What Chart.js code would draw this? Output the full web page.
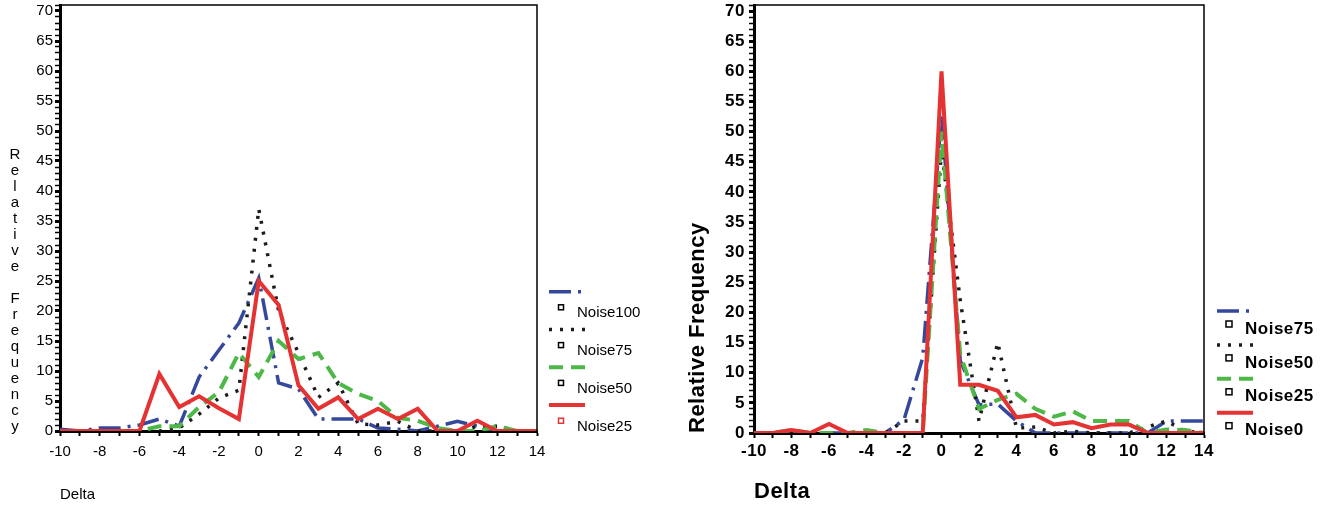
<!DOCTYPE html>
<html>
<head>
<meta charset="utf-8">
<script src="https://cdn.jsdelivr.net/npm/chart.js@4"></script>
<style>
  body { margin: 0; background: #fff; }
  #wrap { position: relative; width: 1341px; height: 510px; }
  canvas { position: absolute; top: 0; }
  #leftChart { left: 0; }
  #rightChart { left: 680px; }
</style>
</head>
<body>
<div id="wrap">
  <canvas id="leftChart" width="680" height="510"></canvas>
  <canvas id="rightChart" width="661" height="510"></canvas>
</div>
<script>
// x values (Delta) shared by both panels
const deltas = [-10, -9, -8, -7, -6, -5, -4, -3, -2, -1, 0, 1, 2, 3, 4, 5, 6, 7, 8, 9, 10, 11, 12, 13, 14];

// left panel series
const leftNoise100 = [0.3, 0, 0.5, 0.5, 1, 2, 0.8, 9, 13.5, 18, 25.5, 8, 7, 2, 2, 2, 0.5, 0.3, 0, 0.8, 1.6, 0.8, 0, 0, 0];
const leftNoise75  = [0, 0, 0, 0, 0, 0, 0.5, 2.8, 5.5, 6.8, 37, 20, 13, 5.6, 8, 1.2, 1, 1.6, 0, 0, 0, 0.8, 0.8, 0, 0];
const leftNoise50  = [0, 0, 0, 0, 0, 0.8, 0.8, 4, 6.5, 13, 9, 15, 12, 13, 8, 6.2, 5, 2.2, 1.7, 0.5, 0, 0, 0.8, 0, 0];
const leftNoise25  = [0, 0, 0, 0, 0, 9.5, 4, 5.8, 3.8, 2, 25, 21, 7.6, 3.7, 5.6, 2, 3.7, 2, 3.7, 0, 0, 1.7, 0, 0, 0];
const leftLabels = ["Noise100", "Noise75", "Noise50", "Noise25"];

// right panel series
const rightNoise75 = [0, 0, 0, 0, 0, 0, 0, 0, 2.2, 12.5, 53, 12, 4.7, 4.8, 2, 0, 0, 0, 0, 0, 0, 0, 2, 2, 2];
const rightNoise50 = [0, 0, 0, 0, 0, 0, 0, 0, 2, 2, 47, 22, 2, 15, 0.8, 1, 0, 0.3, 0, 0, 0, 1, 2, 0.3, 0];
const rightNoise25 = [0, 0, 0.5, 0, 0, 0, 0.5, 0, 0, 0, 50, 13, 4, 5.5, 6.5, 4, 2.7, 3.6, 2, 2, 2, 0, 0.6, 0.5, 0];
const rightNoise0  = [0, 0, 0.5, 0, 1.5, 0, 0, 0, 0, 0, 60, 8, 8, 7, 2.6, 3, 1.4, 1.8, 0.8, 1.4, 1.4, 0, 0, 0, 0];
const rightLabels = ["Noise75", "Noise50", "Noise25", "Noise0"];

const yTitle = "Relative Frequency";
const xTitle = "Delta";

// line look per series slot (dash-dot, dotted, dashed, solid)
const seriesStyles = [
  { color: "#34499b", dash: [22, 7, 3, 7], width: 3.5 },
  { color: "#1c1c1c", dash: [3, 8], width: 3.5 },
  { color: "#4db848", dash: [14, 8], width: 4 },
  { color: "#e53232", dash: [], width: 4 }
];

const boldFamily = "'Liberation Sans', Arial, sans-serif";

Chart.defaults.font.family = "'Liberation Sans', Arial, sans-serif";
Chart.defaults.color = "#000";

function toPoints(values) {
  return deltas.map((d, i) => ({ x: d, y: values[i] }));
}

function makeDatasets(labels, seriesList) {
  return seriesList.map((values, i) => ({
    label: labels[i],
    data: toPoints(values),
    borderColor: seriesStyles[i].color,
    borderWidth: seriesStyles[i].width,
    borderDash: seriesStyles[i].dash,
    pointRadius: 0,
    tension: 0,
    fill: false,
    order: 4 - i
  }));
}

// thin frame on top and right of plot
const framePlugin = {
  id: "frame",
  afterDraw(chart) {
    const { ctx, chartArea: a } = chart;
    ctx.save();
    ctx.strokeStyle = "#000";
    ctx.lineWidth = 1.5;
    ctx.beginPath();
    ctx.moveTo(a.left, a.top);
    ctx.lineTo(a.right, a.top);
    ctx.lineTo(a.right, a.bottom);
    ctx.stroke();
    ctx.restore();
  }
};

// legend: line sample row, then square + name row
const sideLegend = {
  id: "sideLegend",
  afterDraw(chart, args, o) {
    const ctx = chart.ctx;
    ctx.save();
    chart.data.datasets.forEach((ds, i) => {
      const y = o.top + i * o.gap;
      ctx.strokeStyle = ds.borderColor;
      ctx.lineWidth = ds.borderWidth;
      ctx.setLineDash(ds.borderDash);
      ctx.beginPath();
      ctx.moveTo(o.x0, y);
      ctx.lineTo(o.x1, y);
      ctx.stroke();
      ctx.setLineDash([]);
      ctx.lineWidth = 1.5;
      ctx.strokeStyle = o.squareColors[i];
      ctx.strokeRect(o.sqX - o.sq / 2, y + o.sqDy - o.sq / 2, o.sq, o.sq);
      ctx.fillStyle = "#000";
      ctx.font = o.font;
      ctx.textAlign = "left";
      ctx.textBaseline = "middle";
      ctx.fillText(ds.label, o.textX, y + o.textDy);
    });
    ctx.restore();
  }
};

// y title written one upright letter under another
const stackedTitle = {
  id: "stackedTitle",
  afterDraw(chart, args, o) {
    if (!o.text) return;
    const ctx = chart.ctx;
    ctx.save();
    ctx.fillStyle = "#000";
    ctx.font = o.font;
    ctx.textAlign = "center";
    ctx.textBaseline = "middle";
    o.text.split("").forEach((ch, i) => {
      ctx.fillText(ch, o.x, o.y0 + i * o.step);
    });
    ctx.restore();
  }
};

// letter spacing for the right panel's lettering
const spacingPlugin = {
  id: "spacing",
  beforeDraw(chart, args, o) {
    if (o.value) chart.ctx.letterSpacing = o.value;
  }
};

function makeScales(opt) {
  return {
    x: {
      type: "linear",
      min: -10,
      max: 14,
      afterFit: s => { s.height = opt.xHeight; s.paddingLeft = 0; s.paddingRight = 0; },
      border: { display: true, color: "#000", width: 3 },
      grid: { drawOnChartArea: false, drawTicks: true, tickLength: 5, tickColor: "#000", tickWidth: 2 },
      ticks: {
        stepSize: 1,
        autoSkip: false,
        maxRotation: 0,
        padding: opt.xPad,
        color: "#000",
        font: opt.tickFont,
        callback: v => (v % 2 === 0 ? String(v) : "")
      },
      title: { display: true, text: xTitle, align: "start", color: "#000", font: opt.xTitleFont, padding: { top: 0, bottom: opt.xTitlePad } }
    },
    y: {
      min: 0,
      max: 71,
      afterFit: s => { s.width = opt.yWidth; s.paddingTop = 0; s.paddingBottom = 0; },
      border: { display: true, color: "#000", width: 3 },
      grid: {
        drawOnChartArea: false,
        drawTicks: true,
        tickLength: 5,
        tickColor: "#000",
        tickWidth: ctx => (ctx.tick && ctx.tick.value % 5 === 0 ? 3 : 1.5)
      },
      ticks: {
        stepSize: 1,
        autoSkip: false,
        padding: opt.yPad,
        color: "#000",
        font: opt.tickFont,
        callback: v => (v % 5 === 0 && v <= 70 ? String(v) : "")
      },
      title: opt.yTitleOpts
    }
  };
}

new Chart(document.getElementById("leftChart"), {
  type: "line",
  data: { datasets: makeDatasets(leftLabels, [leftNoise100, leftNoise75, leftNoise50, leftNoise25]) },
  options: {
    responsive: false,
    animation: false,
    layout: { padding: { left: 0, right: 143, top: 5, bottom: 0 } },
    scales: makeScales({
      xHeight: 79,
      yWidth: 60,
      xPad: 7,
      yPad: 2,
      tickFont: { size: 15 },
      xTitleFont: { size: 15 },
      xTitlePad: 6,
      yTitleOpts: { display: false }
    }),
    plugins: {
      legend: { display: false },
      tooltip: { enabled: false },
      sideLegend: {
        x0: 549, x1: 585, top: 291.7, gap: 37.8,
        sq: 5, sqX: 561, sqDy: 15.6,
        textX: 577, textDy: 21.3,
        font: "15px 'Liberation Sans', Arial, sans-serif",
        squareColors: ["#000", "#000", "#000", "#e53232"]
      },
      stackedTitle: { text: yTitle, x: 15, y0: 155, step: 16, font: "15px 'Liberation Sans', Arial, sans-serif" }
    }
  },
  plugins: [framePlugin, sideLegend, stackedTitle]
});

new Chart(document.getElementById("rightChart"), {
  type: "line",
  data: { datasets: makeDatasets(rightLabels, [rightNoise75, rightNoise50, rightNoise25, rightNoise0]) },
  options: {
    responsive: false,
    animation: false,
    layout: { padding: { left: 0, right: 137, top: 5, bottom: 0 } },
    scales: makeScales({
      xHeight: 77,
      yWidth: 74,
      xPad: 3,
      yPad: 4,
      tickFont: { size: 17, weight: "bold", family: boldFamily },
      xTitleFont: { size: 22, weight: "bold", family: boldFamily },
      xTitlePad: 4.5,
      yTitleOpts: {
        display: true,
        text: yTitle,
        align: "start",
        color: "#000",
        font: { size: 22, weight: "bold", family: boldFamily },
        padding: { top: 5, bottom: 0 }
      }
    }),
    plugins: {
      legend: { display: false },
      tooltip: { enabled: false },
      spacing: { value: "0.5px" },
      sideLegend: {
        x0: 537, x1: 573, top: 311, gap: 33.9,
        sq: 6, sqX: 549, sqDy: 13,
        textX: 565, textDy: 18,
        font: "bold 17px " + boldFamily,
        squareColors: ["#000", "#000", "#000", "#000"]
      },
      stackedTitle: { text: "" }
    }
  },
  plugins: [spacingPlugin, framePlugin, sideLegend, stackedTitle]
});
</script>
</body>
</html>
